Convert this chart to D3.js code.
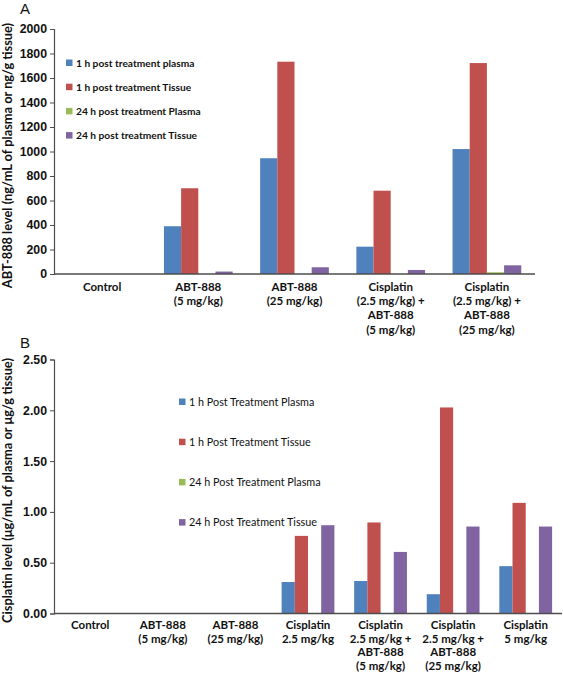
<!DOCTYPE html>
<html><head><meta charset="utf-8">
<script src="https://cdn.jsdelivr.net/npm/d3@7"></script>
<style>body{margin:0;background:#fff}svg{display:block;font-family:Lato,"Open Sans",sans-serif}</style>
</head><body><svg id="c" width="563" height="676"></svg>
<script>
const colors = ["#4F81BD","#C0504D","#9BBB59","#8064A2"];

const catsA = [["Control"],["ABT-888","(5 mg/kg)"],["ABT-888","(25 mg/kg)"],["Cisplatin","(2.5 mg/kg) +","ABT-888","(5 mg/kg)"],["Cisplatin","(2.5 mg/kg) +","ABT-888","(25 mg/kg)"]];
const seriesA = ["1 h post treatment plasma","1 h post treatment Tissue","24 h post treatment Plasma","24 h post treatment Tissue"];
const plasma1hA = [0,390,945,223,1020];
const tissue1hA = [0,700,1733,680,1722];
const plasma24hA = [0,0,0,0,14];
const tissue24hA = [0,20,55,33,71];
const ticksA = [0,200,400,600,800,1000,1200,1400,1600,1800,2000];

const catsB = [["Control"],["ABT-888","(5 mg/kg)"],["ABT-888","(25 mg/kg)"],["Cisplatin","2.5 mg/kg"],["Cisplatin","2.5 mg/kg +","ABT-888","(5 mg/kg)"],["Cisplatin","2.5 mg/kg +","ABT-888","(25 mg/kg)"],["Cisplatin","5 mg/kg"]];
const seriesB = ["1 h Post Treatment Plasma","1 h Post Treatment Tissue","24 h Post Treatment Plasma","24 h Post Treatment Tissue"];
const plasma1hB = [0,0,0,0.31,0.32,0.19,0.466];
const tissue1hB = [0,0,0,0.764,0.896,2.028,1.089];
const plasma24hB = [0,0,0,0,0,0,0];
const tissue24hB = [0,0,0,0.869,0.606,0.856,0.856];
const ticksB = [0,0.5,1,1.5,2,2.5];

const svg = d3.select("#c");

function panel(o){
  const g = svg.append("g");
  const x = d3.scaleBand().domain(d3.range(o.cats.length)).range([o.x0,o.x1]).paddingInner(0).paddingOuter(0);
  const xs = d3.scaleBand().domain(d3.range(4)).range([0,x.bandwidth()]).paddingOuter(o.pad).paddingInner(0);
  const y = d3.scaleLinear().domain([0,o.max]).range([o.yb,o.yt]);
  const vals = o.vals;
  o.cats.forEach((c,i)=>{
    vals.forEach((s,j)=>{
      if(s[i]<=0) return;
      g.append("rect").attr("x",x(i)+xs(j)).attr("width",xs.bandwidth())
        .attr("y",y(s[i])).attr("height",y(0)-y(s[i])).attr("fill",colors[j]);
    });
  });
  const ya = d3.axisLeft(y).tickValues(o.ticks).tickSize(4).tickPadding(3).tickFormat(o.fmt);
  const yg = g.append("g").attr("transform",`translate(${o.x0},0)`).call(ya);
  yg.select(".domain").attr("stroke","#4d4d4d").attr("stroke-width",1.2);
  yg.selectAll(".tick line").attr("stroke","#4d4d4d");
  yg.selectAll("text").attr("font-size",12.3).attr("font-weight","bold").attr("fill","#111");
  g.append("line").attr("x1",o.x0).attr("x2",o.x1).attr("y1",y(0)).attr("y2",y(0)).attr("stroke","#4d4d4d").attr("stroke-width",1.4);
  o.cats.forEach((c,i)=>{
    const t = g.append("text").attr("text-anchor","middle").attr("font-size",11.5).attr("font-weight","bold").attr("fill","#111");
    c.forEach((l,k)=>t.append("tspan").attr("x",x(i)+x.bandwidth()/2).attr("y",o.labY+k*o.lh).text(l));
  });
  g.append("text").attr("transform",`translate(${o.titleX},${(o.yt+o.yb)/2+4}) rotate(-90)`).attr("text-anchor","middle")
    .attr("font-size",12.8).attr("font-weight","bold").attr("fill","#111").text(o.title);
  g.append("text").attr("x",20).attr("y",o.letterY).attr("font-size",15).attr("fill","#111").attr("font-family","Liberation Sans, Arial").text(o.letter);
  o.series.forEach((s,j)=>{
    const ly = o.legY + j*o.legDy;
    g.append("rect").attr("x",o.legX).attr("y",ly-3.5).attr("width",6.5).attr("height",6.5).attr("fill",colors[j]);
    g.append("text").attr("x",o.legX+10).attr("y",ly+3.8).attr("font-size",o.legFs).attr("font-weight",o.legW).attr("fill","#111").text(s);
  });
}

panel({cats:catsA, vals:[plasma1hA,tissue1hA,plasma24hA,tissue24hA], x0:54, x1:535, yt:29, yb:274, max:2000,
  ticks:ticksA, fmt:d3.format("d"), pad:0.8, labY:291, lh:14.2, titleX:12,
  title:"ABT-888 level (ng/mL of plasma or ng/g tissue)", letter:"A", letterY:14,
  series:seriesA, legX:66, legY:63, legDy:24.2, legFs:10.2, legW:"bold"});

panel({cats:catsB, vals:[plasma1hB,tissue1hB,plasma24hB,tissue24hB], x0:54, x1:562, yt:359.5, yb:613.5, max:2.5,
  ticks:ticksB, fmt:d3.format(".2f"), pad:0.75, labY:629, lh:13.6, titleX:12,
  title:"Cisplatin level (μg/mL of plasma or μg/g tissue)", letter:"B", letterY:348,
  series:seriesB, legX:179, legY:402, legDy:40.2, legFs:10.8, legW:"normal"});
</script></body></html>
